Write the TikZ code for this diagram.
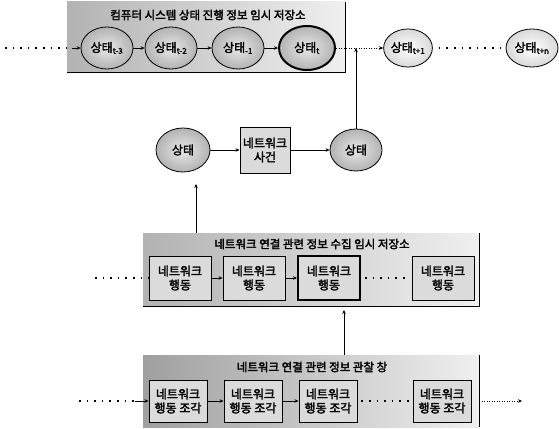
\documentclass[tikz,border=0pt]{standalone}
\usepackage{fontspec}
\setmainfont{Noto Sans CJK KR}[FakeBold=2.5]
\usetikzlibrary{arrows.meta, positioning, shapes.geometric}

\begin{document}
\begin{tikzpicture}[
    x=1pt, y=-1pt,
    font=\fontsize{12}{13}\selectfont,
    >={Stealth[length=4pt,width=3.5pt]},
    store/.style={inner sep=0pt, left color=gray!60, right color=gray!12},
    rim/.style={line width=1.4pt},
    title/.style={inner sep=1pt, font=\fontsize{11.5}{12}\selectfont},
    st/.style={draw, ellipse, line width=0.8pt, inner sep=0pt,
               minimum width=52pt, minimum height=42pt,
               inner color=gray!18, outer color=gray!60},
    stfut/.style={st, inner color=white, outer color=gray!30,
                  minimum width=46pt, minimum height=38pt},
    act/.style={draw, line width=0.9pt, align=center, inner sep=1pt,
                minimum width=60pt, minimum height=44pt, fill=gray!28,
                font=\fontsize{12}{14}\selectfont},
    sig/.style={->, semithick},
    fine/.style={->, semithick, dash pattern=on 1pt off 1.5pt},
    dots/.style={line width=1.6pt, dash pattern=on 1.6pt off 6pt},
  ]
  \useasboundingbox (0,0) rectangle (559,428);

  %% ---- computer system state store (top) ----------------------------
  \node[store, minimum width=278pt, minimum height=70pt] (topstore) at (206,37) {};
  \draw[rim] (topstore.north east) -- (topstore.south east) -- (topstore.south west);
  \node[title] (toptitle) at (208,15) {컴퓨터 시스템 상태 진행 정보 임시 저장소};

  \node[st] (s1) at (107,48) {상태\textsubscript{t-3}};
  \node[st] (s2) at (171,48) {상태\textsubscript{t-2}};
  \node[st] (s3) at (238,48) {상태\textsubscript{-1}};
  \node[st, line width=2pt, minimum width=56pt, minimum height=44pt] (s4) at (307,48) {상태\textsubscript{t}};
  \node[stfut] (s5) at (408,48) {상태\textsubscript{t+1}};
  \node[stfut, minimum width=52pt] (s6) at (532,48) {상태\textsubscript{t+n}};

  \coordinate (inS) at (5,48);
  \coordinate (inSe) at (72,48);
  \coordinate (jS) at (356,48);
  \draw[dots] (inS) -- (inSe);
  \draw[sig] (inSe) -- (s1);
  \draw[sig] (s1) -- (s2);
  \draw[sig] (s2) -- (s3);
  \draw[sig] (s3) -- (s4);
  \draw[fine] (s4) -- (s5);
  \draw[dots, shorten <=6pt, shorten >=6pt] (s5) -- (s6);

  %% ---- network event ------------------------------------------------
  \node[st, minimum width=54pt, minimum height=44pt] (e1) at (183,150) {상태};
  \node[act, minimum width=50pt, minimum height=46pt] (ev) at (265,150) {네트워크\\사건};
  \node[st] (e2) at (356,150) {상태};
  \draw[sig] (e1) -- (ev);
  \draw[sig] (ev) -- (e2);
  \draw[sig] (e2) -- (jS);

  %% ---- network behaviour store (middle) -----------------------------
  \node[store, minimum width=336pt, minimum height=73pt] (midstore) at (311,269.5) {};
  \draw[rim] (midstore.north east) -- (midstore.south east) -- (midstore.south west);
  \node[title] (midtitle) at (312,244) {네트워크 연결 관련 정보 수집 임시 저장소};

  \node[act, minimum width=62pt] (b1) at (180,278) {네트워크\\행동};
  \node[act, minimum width=62pt] (b2) at (254,278) {네트워크\\행동};
  \node[act, minimum width=62pt, line width=2pt] (b3) at (329,278) {네트워크\\행동};
  \node[act, minimum width=62pt] (b4) at (443,278) {네트워크\\행동};

  \coordinate (inB) at (95,278);
  \draw[dots] (inB) -- (b1);
  \draw[sig] (b1) -- (b2);
  \draw[sig] (b2) -- (b3);
  \draw[dots, shorten <=4pt, shorten >=4pt] (b3) -- (b4);

  \coordinate (upE) at (196,184);
  \draw[sig] (midstore.north -| upE) -- (upE);

  %% ---- observation window (bottom) ----------------------------------
  \node[store, left color=gray!75, minimum width=336pt, minimum height=72pt] (lowstore) at (311,391) {};
  \draw[rim] (lowstore.north east) -- (lowstore.south east);
  \node[title] (lowtitle) at (312,367) {네트워크 연결 관련 정보 관찰 창};

  \node[act, minimum width=58pt, minimum height=42pt] (c1) at (178,401) {네트워크\\행동 조각};
  \node[act, minimum width=58pt, minimum height=42pt] (c2) at (253,401) {네트워크\\행동 조각};
  \node[act, minimum width=58pt, minimum height=42pt] (c3) at (328,401) {네트워크\\행동 조각};
  \node[act, minimum width=58pt, minimum height=42pt] (c4) at (442,401) {네트워크\\행동 조각};

  \coordinate (inC) at (79,401);
  \coordinate (inCe) at (135,401);
  \coordinate (outC) at (522,401);
  \draw[dots] (inC) -- (inCe);
  \draw[sig] (inCe) -- (c1);
  \draw[sig] (c1) -- (c2);
  \draw[sig] (c2) -- (c3);
  \draw[dots, shorten <=4pt, shorten >=4pt] (c3) -- (c4);
  \draw[fine] (lowstore.east |- c4) -- (outC);

  \coordinate (upB) at (344,310);
  \draw[sig] (lowstore.north -| upB) -- (upB);

\end{tikzpicture}
\end{document}
